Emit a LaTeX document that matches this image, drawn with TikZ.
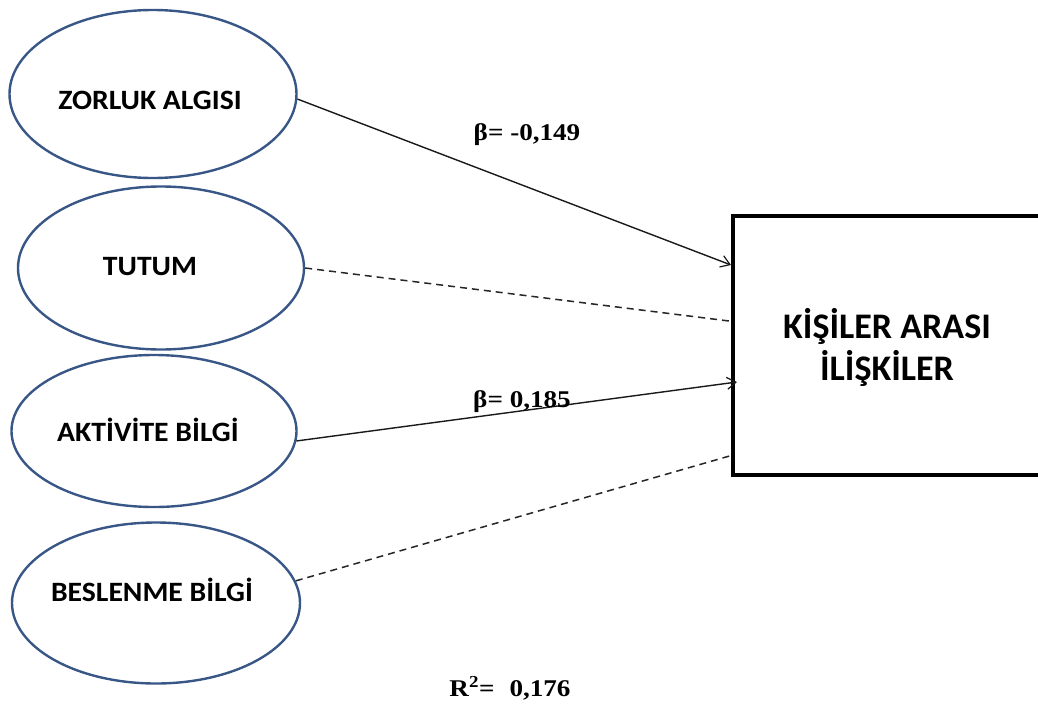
\documentclass[tikz,border=0pt]{standalone}
\usepackage{fontspec}
\usepackage{graphicx}
\newfontfamily\labelfont{Carlito}
\newfontfamily\numfont{Liberation Serif}
\usetikzlibrary{shapes.geometric,arrows.meta}
\definecolor{ellblue}{RGB}{56,87,135}
% slightly widened lettering
\newcommand\widetxt[2][1.06]{\scalebox{#1}[1]{#2}}
\tikzset{
  latent/.style={ellipse, draw=ellblue, line width=2.4pt, inner sep=0pt},
  lbl/.style={font=\labelfont\bfseries\fontsize{28}{32}\selectfont, inner sep=0pt},
  outcome/.style={rectangle, draw=black, line width=3.2pt, inner sep=0pt},
  coef/.style={font=\numfont\bfseries\fontsize{24}{26}\selectfont, inner sep=0pt},
  path/.style={draw=black!90, line width=1.4pt,
    -{Straight Barb[length=9pt,width=12pt,line width=1.2pt]}},
  nspath/.style={draw=black!85, line width=1.5pt, dash pattern=on 7pt off 5pt}
}
\begin{document}
\begin{tikzpicture}[x=1pt,y=-1pt]
  \useasboundingbox (0,0) rectangle (1038,707);
  \clip (0,0) rectangle (1038,707);

  % predictors
  \node[latent, minimum width=287pt, minimum height=168pt] (zor) at (153,94) {};
  \node[latent, minimum width=286pt, minimum height=163pt] (tut) at (161,268) {};
  \node[latent, minimum width=285pt, minimum height=152pt] (akt) at (154,431) {};
  \node[latent, minimum width=288pt, minimum height=161pt] (bes) at (156,603) {};

  \node[lbl] (zorT) at (150,100) {\widetxt{ZORLUK ALGISI}};
  \node[lbl] (tutT) at (150,267) {\widetxt{TUTUM}};
  \node[lbl] (aktT) at (148,430) {\widetxt{AKTİVİTE BİLGİ}};
  \node[lbl] (besT) at (152,590) {\widetxt{BESLENME BİLGİ}};

  % outcome
  \node[outcome, minimum width=312pt, minimum height=259pt] (kis) at (889,345.5) {};
  \node[font=\labelfont\bfseries\fontsize{36}{42}\selectfont, align=center, inner sep=0pt]
    (kisT) at (887,347) {KİŞİLER ARASI\\İLİŞKİLER};

  % end points on the left side of the outcome box
  \coordinate (e1) at (731,265);
  \coordinate (e2) at (729,321);
  \coordinate (e3) at (737,382);
  \coordinate (e4) at (733,455);

  % paths
  \draw[path] (zor.-2) -- (e1);
  \draw[nspath] (tut.east) -- (e2);
  \draw[path] (akt.-4) -- (e3);
  \draw[nspath] (bes.9) -- (e4);

  % coefficients
  \node[coef] (b1) at (527,135) {\widetxt[1.13]{β= -0,149}};
  \node[coef] (b3) at (522,402) {\widetxt[1.13]{β= 0,185}};
  \node[coef] (r2) at (510,688) {\widetxt[1.13]{R\textsuperscript{2}=\hspace{0.55em}0,176}};
\end{tikzpicture}
\end{document}
